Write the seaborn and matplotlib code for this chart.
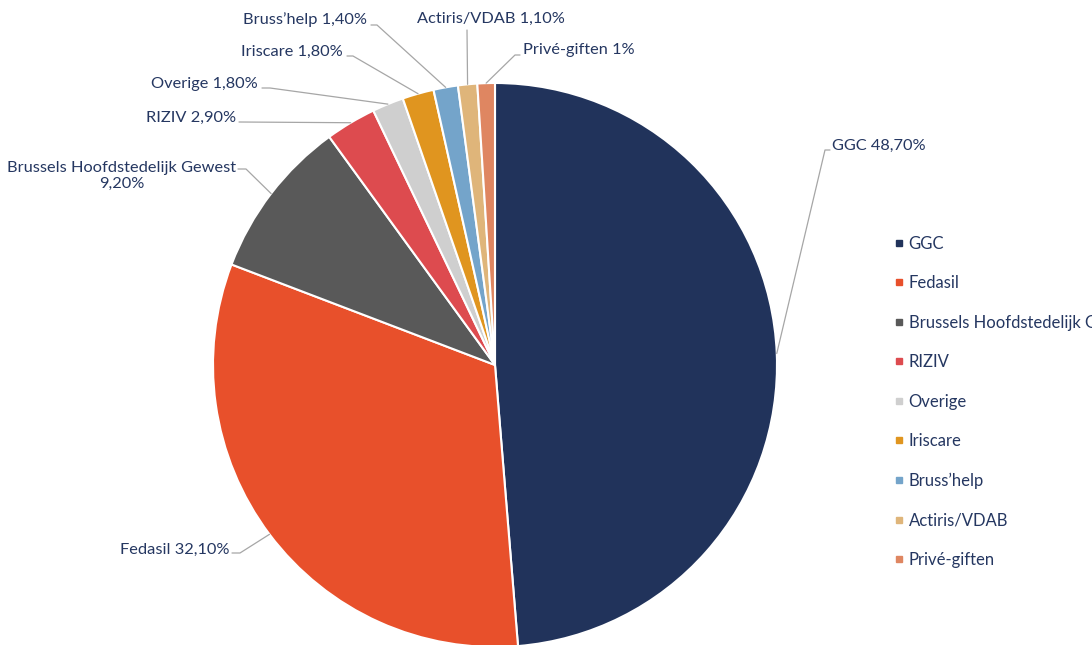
import numpy as np
import matplotlib.pyplot as plt
import seaborn as sns
from matplotlib.lines import Line2D

# Funding sources (share of budget, %)
sources = ['GGC', 'Fedasil', 'Brussels Hoofdstedelijk Gewest', 'RIZIV', 'Overige',
           'Iriscare', 'Bruss\u2019help', 'Actiris/VDAB', 'Priv\u00e9-giften']
shares = [48.7, 32.1, 9.2, 2.9, 1.8, 1.8, 1.4, 1.1, 1.0]
share_text = ['48,70%', '32,10%', '9,20%', '2,90%', '1,80%', '1,80%', '1,40%', '1,10%', '1%']

colors = ['#21335b', '#e8502b', '#595959', '#dd4b4f', '#cfcfcf',
          '#e0951f', '#74a4ca', '#dfb57a', '#df8661']
text_color = '#253761'
line_color = '#a6a6a6'

sns.set_theme(style='white')
plt.rcParams['font.family'] = ['Lato', 'DejaVu Sans']

W, H = 1092, 645
fig = plt.figure(figsize=(W / 100, H / 100), dpi=100)
ax = fig.add_axes([0, 0, 1, 1])


def px(x, y):
    # picture pixel -> data coords (y up)
    return x, H - y


cx, cy = px(495, 365)
R = 282
wedges, _ = ax.pie(shares, colors=colors, startangle=90, counterclock=False,
                   center=(cx, cy), radius=R, frame=True,
                   wedgeprops=dict(edgecolor='white', linewidth=1.5))
ax.set_xlim(0, W)
ax.set_ylim(0, H)
ax.set_aspect('equal')
ax.axis('off')

# label layout: text position, alignment, elbow points of the leader line
layout = [
    dict(xy=(832, 146), ha='left', pts=[(830, 150), (825, 150)]),
    dict(xy=(229, 550), ha='right', pts=[(232, 553), (240, 553)]),
    dict(xy=(236, 176), ha='right', pts=[(238, 169), (246, 169)]),
    dict(xy=(236, 118), ha='right', pts=[(239, 122)]),
    dict(xy=(258, 84), ha='right', pts=[(262, 88), (270, 88)]),
    dict(xy=(343, 52), ha='right', pts=[(347, 56), (353, 56)]),
    dict(xy=(367, 20), ha='right', pts=[(371, 25), (377, 25)]),
    dict(xy=(491, 19), ha='center', pts=[(467, 30)]),
    dict(xy=(523, 50), ha='left', pts=[(520, 55), (515, 55)]),
]

for w, name, txt, lay in zip(wedges, sources, share_text, layout):
    mid = np.deg2rad((w.theta1 + w.theta2) / 2)
    edge = (cx + R * np.cos(mid), cy + R * np.sin(mid))
    pts = [px(*p) for p in lay['pts']] + [edge]
    ax.plot([p[0] for p in pts], [p[1] for p in pts], color=line_color, lw=0.9)
    if name.startswith('Brussels'):
        label = f'{name}\n{txt}'
    else:
        label = f'{name} {txt}'
    ax.text(*px(*lay['xy']), label, ha=lay['ha'], va='center', ma='center',
            fontsize=11.8, color=text_color, linespacing=1.12)

handles = [Line2D([], [], marker='s', linestyle='none', markersize=5,
                  markerfacecolor=c, markeredgecolor=c) for c in colors]
fig.legend(handles, sources, loc='upper left', bbox_to_anchor=(887 / W, 1 - 229 / H),
           frameon=False, fontsize=12, labelcolor=text_color, labelspacing=1.41,
           handlelength=0.6, handletextpad=0.3, borderaxespad=0)

fig.savefig('out.png', dpi=100)
